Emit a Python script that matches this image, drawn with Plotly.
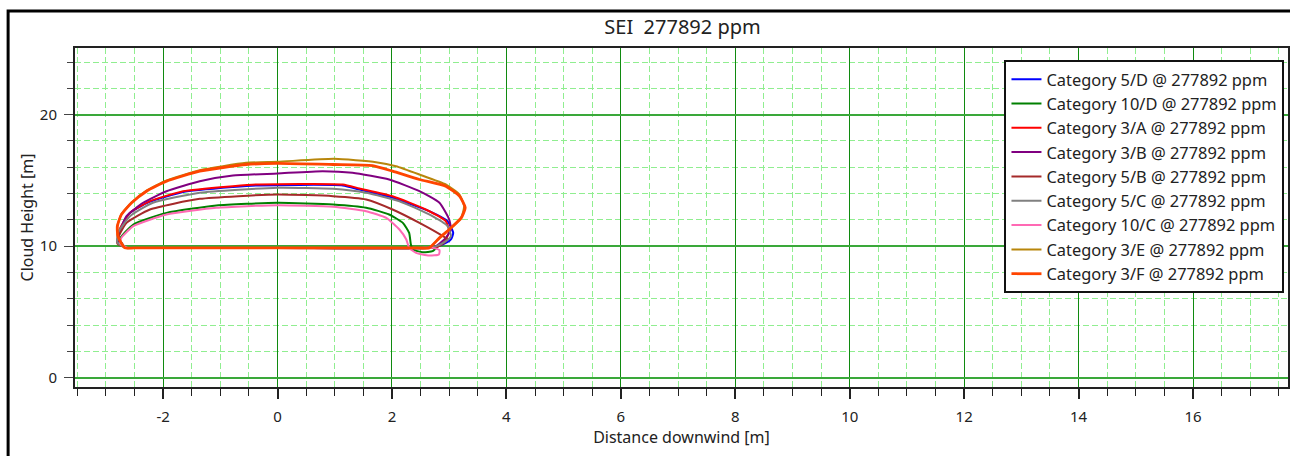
import plotly.graph_objects as go

# ---- data ----
names = ["Category 5/D @ 277892 ppm", "Category 10/D @ 277892 ppm", "Category 3/A @ 277892 ppm",
         "Category 3/B @ 277892 ppm", "Category 5/B @ 277892 ppm", "Category 5/C @ 277892 ppm",
         "Category 10/C @ 277892 ppm", "Category 3/E @ 277892 ppm", "Category 3/F @ 277892 ppm"]
colors = ["#0000FF", "#008000", "#FF0000", "#800080", "#A52A2A", "#808080", "#FF69B4", "#B8860B", "#FF4500"]

x_5D = [-2.5, -2.65, -2.78, -2.76, -2.60, -2.25, -1.65, -0.78, -0.37, 1.14, 1.43, 2.01, 2.65, 2.97, 3.07, 3.03, 2.89, 2.70, 2.5, 0.0, -2.5]
y_5D = [9.87, 9.87, 10.6, 11.2, 12.45, 13.35, 14.12, 14.5, 14.62, 14.62, 14.3, 13.68, 12.66, 11.9, 11.01, 10.51, 10.13, 9.87, 9.87, 9.87, 9.87]

x_10D = [-2.5, -2.65, -2.76, -2.52, -1.94, -1.07, 0.0, 0.97, 1.55, 1.95, 2.19, 2.30, 2.33, 2.36, 2.54, 2.71, 2.77, 2.6, 0.0, -2.5]
y_10D = [9.87, 9.87, 10.51, 11.65, 12.53, 13.09, 13.3, 13.17, 12.92, 12.41, 11.77, 11.01, 10.13, 9.75, 9.54, 9.62, 9.87, 9.87, 9.87, 9.87]

x_3A = [-2.5, -2.65, -2.78, -2.76, -2.58, -2.23, -1.65, -0.78, -0.37, 1.14, 1.43, 2.01, 2.59, 2.94, 3.0, 2.94, 2.80, 2.6, 0.0, -2.5]
y_3A = [9.87, 9.87, 10.5, 11.27, 12.53, 13.42, 14.18, 14.56, 14.69, 14.69, 14.39, 13.8, 12.79, 11.9, 11.14, 10.51, 9.95, 9.87, 9.87, 9.87]

x_3B = [-2.5, -2.65, -2.79, -2.76, -2.64, -2.35, -1.94, -1.36, -0.78, 0.0, 0.79, 1.31, 1.95, 2.48, 2.83, 3.0, 3.03, 2.94, 2.77, 2.6, 0.0, -2.5]
y_3B = [9.87, 9.87, 10.4, 11.0, 12.28, 13.3, 14.18, 14.94, 15.37, 15.53, 15.7, 15.58, 15.07, 14.18, 13.3, 12.03, 11.27, 10.63, 10.0, 9.87, 9.87, 9.87]

x_5B = [-2.5, -2.65, -2.80, -2.79, -2.64, -2.23, -1.36, 0.0, 0.97, 1.55, 2.01, 2.48, 2.89, 2.97, 2.86, 2.7, 0.0, -2.5]
y_5B = [9.87, 9.87, 10.2, 10.63, 11.77, 12.79, 13.6, 13.93, 13.8, 13.55, 12.79, 11.77, 10.76, 10.51, 10.1, 9.87, 9.87, 9.87]

x_5C = [-2.5, -2.65, -2.80, -2.79, -2.58, -2.18, -1.36, 0.0, 0.97, 1.55, 2.13, 2.65, 2.97, 3.03, 2.94, 2.78, 2.6, 0.0, -2.5]
y_5C = [9.87, 9.87, 10.3, 11.0, 12.28, 13.3, 14.06, 14.44, 14.36, 14.06, 13.42, 12.41, 11.52, 10.76, 10.38, 10.0, 9.87, 9.87, 9.87]

x_10C = [-2.5, -2.62, -2.75, -2.73, -2.52, -1.94, -1.07, 0.0, 0.97, 1.55, 1.90, 2.13, 2.25, 2.30, 2.42, 2.65, 2.82, 2.83, 2.71, 2.5, 0.0, -2.5]
y_10C = [9.87, 9.87, 10.2, 10.63, 11.52, 12.41, 12.92, 13.12, 12.99, 12.66, 12.15, 11.27, 10.51, 9.87, 9.49, 9.29, 9.37, 9.7, 9.87, 9.87, 9.87, 9.87]

x_3E = [-2.5, -2.67, -2.79, -2.80, -2.73, -2.55, -2.29, -1.94, -1.36, -0.55, 0.0, 0.99, 1.72, 2.07, 2.48, 2.94, 3.18, 3.26, 3.21, 3.0, 2.83, 2.65, 2.45, 0.0, -2.5]
y_3E = [9.87, 9.87, 10.76, 11.52, 12.42, 13.33, 14.22, 15.0, 15.78, 16.34, 16.42, 16.64, 16.39, 16.08, 15.45, 14.69, 13.93, 13.04, 12.15, 11.27, 10.63, 9.87, 9.87, 9.87, 9.87]

x_3F = [-2.5, -2.67, -2.79, -2.80, -2.73, -2.55, -2.29, -1.94, -1.36, -0.55, 0.0, 0.97, 1.66, 2.01, 2.48, 2.94, 3.18, 3.28, 3.21, 3.0, 2.83, 2.65, 2.45, 0.0, -2.5]
y_3F = [9.87, 9.87, 10.76, 11.52, 12.4, 13.3, 14.18, 14.94, 15.7, 16.21, 16.29, 16.21, 16.13, 15.7, 15.07, 14.56, 13.8, 12.92, 12.15, 11.27, 10.63, 9.87, 9.87, 9.87, 9.87]

series_x = [x_5D, x_10D, x_3A, x_3B, x_5B, x_5C, x_10C, x_3E, x_3F]
series_y = [y_5D, y_10D, y_3A, y_3B, y_5B, y_5C, y_10C, y_3E, y_3F]
widths = [2, 2, 2, 2, 2, 2, 2, 2, 2.8]

x_tickvals = [-2, 0, 2, 4, 6, 8, 10, 12, 14, 16]
x_ticktext = ["-2", "0", "2", "4", "6", "8", "10", "12", "14", "16"]
y_tickvals = [0, 10, 20]
y_ticktext = ["0", "10", "20"]

title_text = "SEI  277892 ppm"
x_title = "Distance downwind [m]"
y_title = "Cloud Height [m]"

FONT = "Noto Sans, Open Sans, sans-serif"

fig = go.Figure()
for xs, ys, n, c, w in zip(series_x, series_y, names, colors, widths):
    fig.add_trace(go.Scatter(x=xs, y=ys, mode="lines", name=n,
                             line=dict(color=c, width=w, shape="spline", smoothing=0.5)))

fig.update_layout(
    width=1290, height=456,
    margin=dict(l=75, r=0, t=48, b=69),
    paper_bgcolor="white", plot_bgcolor="white",
    font=dict(family=FONT, size=15, color="#222"),
    title=dict(text=title_text, x=(75 + 1215 / 2) / 1290, xanchor="center",
               y=1 - 27 / 456, yanchor="middle", yref="container",
               font=dict(size=20, color="#222")),
    showlegend=True,
    legend=dict(x=(1006 - 75) / 1215, y=(387 - 60) / 339, xanchor="left", yanchor="top",
                bgcolor="white", bordercolor="#111", borderwidth=2,
                font=dict(size=16.4, color="#222"), tracegroupgap=0),
    shapes=[dict(type="rect", xref="paper", yref="paper",
                 x0=(8 - 75) / 1215, x1=1.2, y0=-0.5, y1=(387 - 11) / 339,
                 line=dict(color="black", width=3), layer="above")],
)

fig.update_xaxes(
    range=[-3.54, 17.66], tickmode="array", tickvals=x_tickvals, ticktext=x_ticktext,
    showgrid=True, gridcolor="#108a10", gridwidth=1,
    zeroline=False,
    showline=True, mirror=True, linecolor="#222", linewidth=2,
    ticks="outside", ticklen=10, tickcolor="#222", tickwidth=1.5,
    ticklabelstandoff=5,
    minor=dict(dtick=0.5, tick0=0, showgrid=True, gridcolor="#90EE90", griddash="6px,3px",
               gridwidth=1, ticks="outside", ticklen=7, tickcolor="#222", tickwidth=1),
    title=dict(text=x_title, font=dict(size=16), standoff=2),
)
fig.update_yaxes(
    range=[-0.71, 25.07], tickmode="array", tickvals=y_tickvals, ticktext=y_ticktext,
    showgrid=True, gridcolor="#3aa83a", gridwidth=1.5,
    zeroline=False,
    showline=True, mirror=True, linecolor="#222", linewidth=2,
    ticks="outside", ticklen=9, tickcolor="#444", tickwidth=1,
    ticklabelstandoff=4,
    minor=dict(dtick=2, tick0=0, showgrid=True, gridcolor="#90EE90", griddash="6px,3px",
               gridwidth=1, ticks="outside", ticklen=6, tickcolor="#444", tickwidth=1),
    title=dict(text=y_title, font=dict(size=16), standoff=2),
)

fig.write_html("out.html", config={"displayModeBar": False},
               post_script="document.body.style.margin='0';document.body.style.overflow='hidden';")
